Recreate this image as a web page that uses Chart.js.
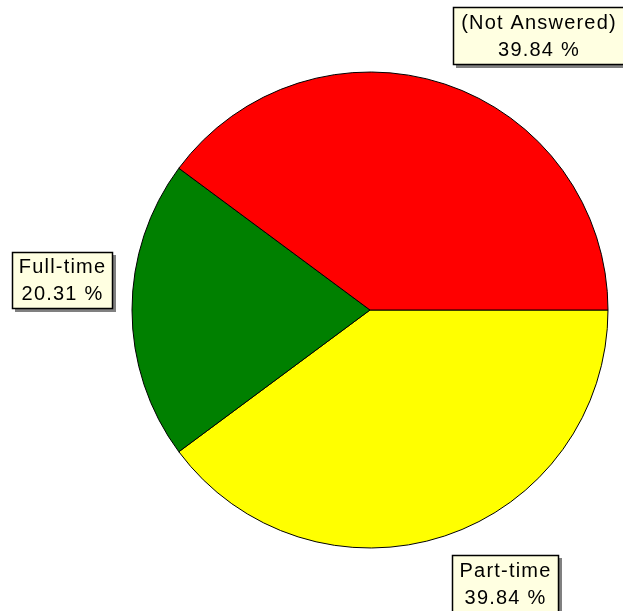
<!DOCTYPE html>
<html>
<head>
<meta charset="utf-8">
<script src="https://cdn.jsdelivr.net/npm/chart.js@4/dist/chart.umd.min.js"></script>
<style>
	html, body { margin: 0; padding: 0; background: #ffffff; }
	#Chart_Pie { display: block; }
</style>
</head>
<body>
<canvas id="Chart_Pie" width="623" height="611"></canvas>
<script>
// slices listed clockwise starting from 3 o'clock
const categories = ['Part-time', 'Full-time', '(Not Answered)'];
const counts = [51, 26, 51];
const slice_colors = ['#ffff00', '#008000', '#ff0000'];

// callout boxes (top-left corner, size) for each category
const label_boxes = [
	{ x: 452, y: 555, w: 107, h: 58 },
	{ x: 12, y: 252, w: 101, h: 57 },
	{ x: 453, y: 7, w: 172, h: 58 }
];

window.onload = init;

function init() {

	const ctx = document.getElementById('Chart_Pie').getContext('2d');
	const total = counts.reduce((a, b) => a + b, 0);

	const callouts = {
		id: 'callouts',
		afterDraw(chart) {
			const c = chart.ctx;
			c.save();
			c.font = '20px "Liberation Sans", Arial, sans-serif';
			c.letterSpacing = '1.2px';
			c.textAlign = 'center';
			c.textBaseline = 'middle';

			let idx = 0;
			while(idx < categories.length) {
				const b = label_boxes[idx];
				const pct = (counts[idx] * 100 / total).toFixed(2) + ' %';

				// shadow
				c.fillStyle = '#808080';
				c.fillRect(b.x + 3, b.y + 3, b.w, b.h);
				// box
				c.fillStyle = '#ffffe1';
				c.fillRect(b.x, b.y, b.w, b.h);
				c.strokeStyle = '#000000';
				c.lineWidth = 1.5;
				c.strokeRect(b.x + 0.5, b.y + 0.5, b.w - 1, b.h - 1);

				c.fillStyle = '#000000';
				const cx = b.x + b.w / 2;
				c.fillText(categories[idx], cx, b.y + b.h / 2 - 13);
				c.fillText(pct, cx, b.y + b.h / 2 + 14);
				idx++;
			}
			c.restore();
		}
	};

	const chart_data = {
		labels: categories,
		datasets: [{
			data: counts,
			backgroundColor: slice_colors,
			borderColor: '#000000',
			borderWidth: 1,
			borderAlign: 'center'
		}]
	};

	const options = {
		responsive: false,
		animation: false,
		rotation: 90,
		layout: {
			padding: { left: 131.5, right: 14.5, top: 71.5, bottom: 62.5 }
		},
		plugins: {
			legend: { display: false },
			tooltip: { enabled: false }
		}
	};

	new Chart(ctx, {
		type: 'pie',
		data: chart_data,
		options: options,
		plugins: [callouts]
	});
}
</script>
</body>
</html>
